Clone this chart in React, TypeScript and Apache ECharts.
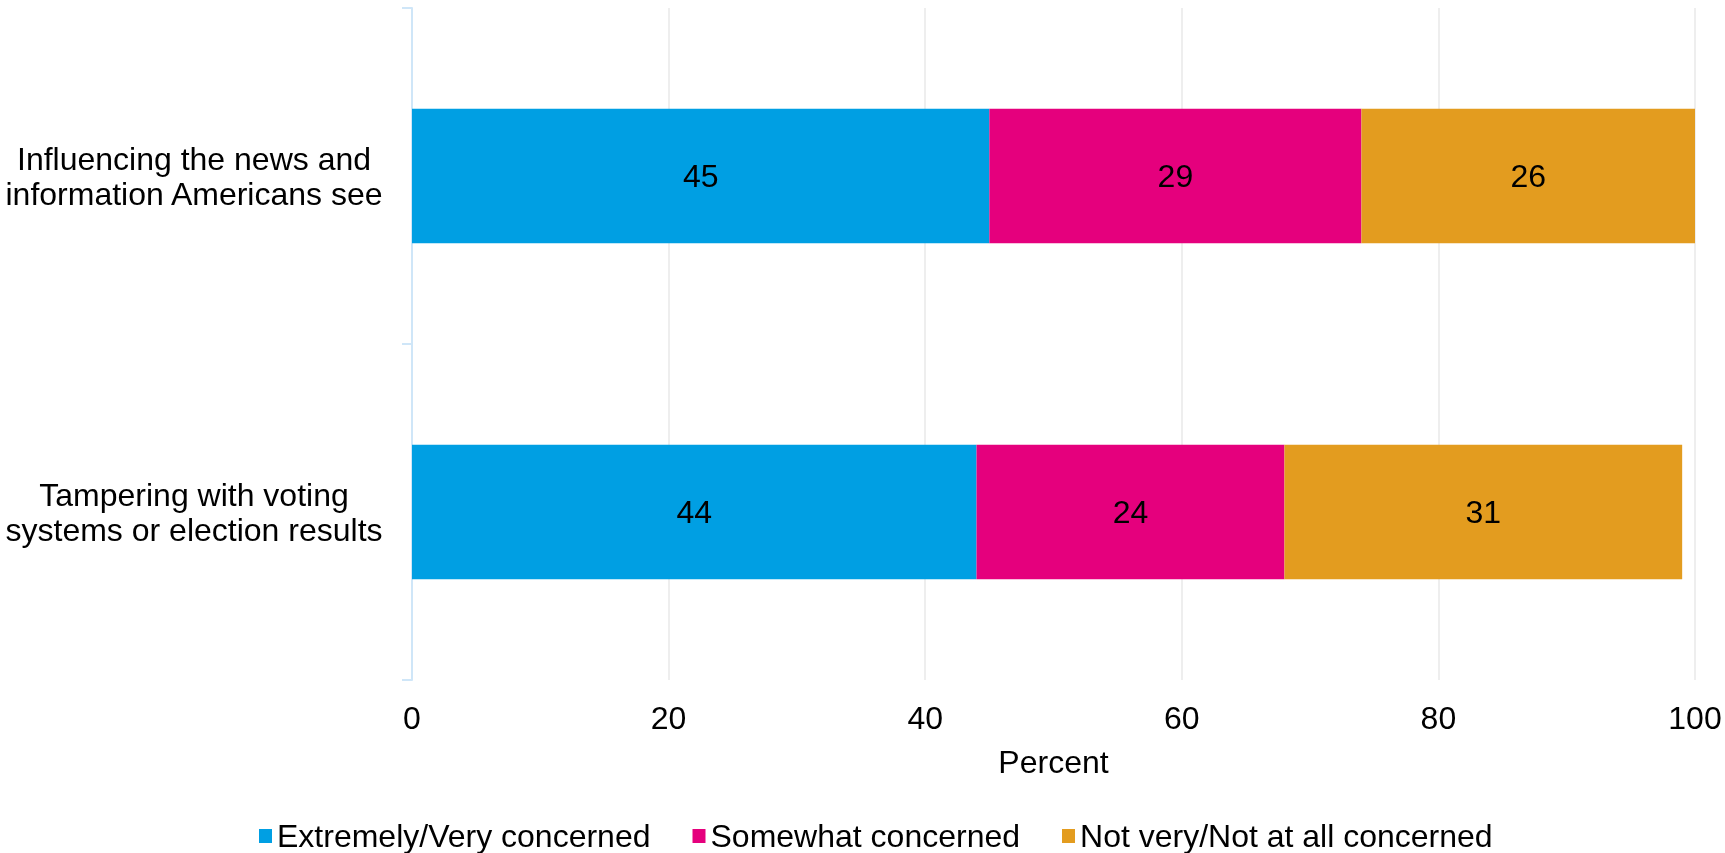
import React, { useEffect, useRef } from "react";
import * as echarts from "echarts";

const categories = [
  "Tampering with voting\nsystems or election results",
  "Influencing the news and\ninformation Americans see",
];
const seriesNames = [
  "Extremely/Very concerned",
  "Somewhat concerned",
  "Not very/Not at all concerned",
];
const extremelyVery = [44, 45];
const somewhat = [24, 29];
const notVery = [31, 26];
const xTicks = [0, 20, 40, 60, 80, 100];
const colors = ["#009fe3", "#e5007d", "#e39c1f"];

const FONT = "Liberation Sans, Arial, sans-serif";
const FS = 32;

export default function App() {
  const ref = useRef<HTMLDivElement>(null);
  useEffect(() => {
    if (!ref.current) return;
    const chart = echarts.init(ref.current, undefined, { renderer: "svg" });
    const values = [extremelyVery, somewhat, notVery];
    chart.setOption({
      animation: false,
      textStyle: { fontFamily: FONT },
      grid: { left: 412, right: 30, top: 8, bottom: 173 },
      legend: {
        left: 259,
        top: 820,
        padding: 0,
        itemWidth: 13,
        itemHeight: 14,
        itemGap: 42,
        icon: "rect",
        textStyle: { fontSize: FS, color: "#000", fontFamily: FONT, lineHeight: 32 },
        data: seriesNames,
      },
      xAxis: {
        type: "value",
        min: xTicks[0],
        max: xTicks[xTicks.length - 1],
        interval: 20,
        name: "Percent",
        nameLocation: "middle",
        nameGap: 66,
        nameTextStyle: { fontSize: FS, color: "#000", fontFamily: FONT },
        axisLine: { show: false },
        axisTick: { show: false },
        axisLabel: { fontSize: FS, color: "#000", margin: 22, fontFamily: FONT },
        splitLine: {
          show: true,
          lineStyle: { color: "#e8e8e8", width: 1.5 },
        },
      },
      yAxis: {
        type: "category",
        data: categories,
        axisLine: { show: true, lineStyle: { color: "#cfe6f8", width: 2 } },
        axisTick: { show: true, length: 10, lineStyle: { color: "#cfe6f8", width: 2 } },
        axisLabel: {
          fontSize: FS,
          color: "#000",
          align: "center",
          margin: 218,
          lineHeight: 35,
          fontFamily: FONT,
        },
        splitLine: { show: false },
      },
      series: seriesNames.map((name, i) => ({
        name,
        type: "bar",
        stack: "total",
        barWidth: "40%",
        data: values[i],
        itemStyle: { color: colors[i] },
        label: {
          show: true,
          position: "inside",
          color: "#000",
          fontSize: FS,
          fontFamily: FONT,
        },
      })),
    });
    return () => chart.dispose();
  }, []);
  return (
    <div
      ref={ref}
      style={{ position: "fixed", left: 0, top: 0, width: 1725, height: 853 }}
    />
  );
}
